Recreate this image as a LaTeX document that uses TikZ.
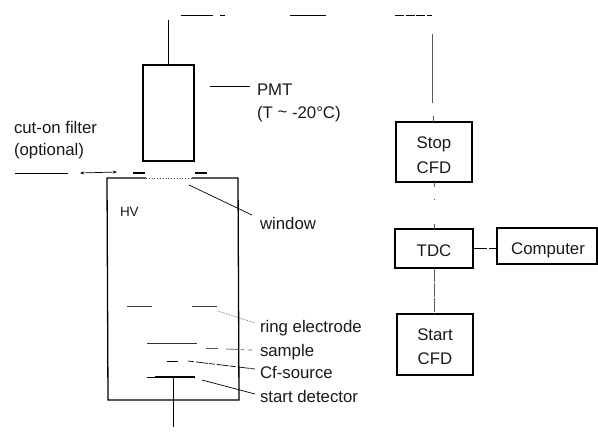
\documentclass[tikz,border=0pt]{standalone}
\usepackage{fontspec}
\usetikzlibrary{arrows.meta}
\setmainfont{Liberation Sans}
\tikzset{
  x=1pt,y=-1pt,
  every node/.style={inner sep=0pt,outer sep=0pt,text=black!90},
  lab/.style={anchor=base west,font=\fontsize{16.8}{20}\selectfont},
  small/.style={anchor=base west,font=\fontsize{13.5}{16}\selectfont},
  boxed/.style={draw,line width=1.3pt,anchor=north west,font=\fontsize{16.8}{20}\selectfont,align=center},
  wall/.style={line width=1.3pt},
  thin line/.style={line width=0.7pt},
  faint/.style={line width=0.7pt,black!65},
  plate/.style={line width=0.8pt,black!75},
}
\begin{document}
\begin{tikzpicture}
\useasboundingbox (0,0) rectangle (598,432);
% boxes
\node[boxed,minimum width=51pt,minimum height=96pt] (pmt) at (143,65) {};
\node[boxed,minimum width=76pt,minimum height=60pt] (stop) at (396,122) {};
\node[boxed,minimum width=78pt,minimum height=39pt] (tdc) at (395,229) {};
\node[boxed,minimum width=100pt,minimum height=36pt] (comp) at (497,228) {};
\node[boxed,minimum width=76pt,minimum height=61pt] (start) at (397,314) {};
% box texts
\node[lab,anchor=base] (stopa) at (434,148) {Stop};
\node[lab,anchor=base] (stopb) at (434,173) {CFD};
\node[lab,anchor=base] (tdct) at (434,256) {TDC};
\node[lab,anchor=base] (compt) at (548,254) {Computer};
\node[lab,anchor=base] (starta) at (435,340) {Start};
\node[lab,anchor=base] (startb) at (435,364) {CFD};
% labels
\node[lab] (lpmt) at (257,95) {PMT};
\node[lab] (ltemp) at (257,118) {(T \raisebox{1pt}{\textasciitilde} -20°C)};
\node[lab] (lcut) at (14,133) {cut-on filter};
\node[lab] (lopt) at (14,155) {(optional)};
\node[small] (lhv) at (120,216) {HV};
\node[lab] (lwin) at (260,229) {window};
\node[lab] (lring) at (260,332) {ring electrode};
\node[lab] (lsam) at (260,356) {sample};
\node[lab] (lcf) at (260,378) {Cf-source};
\node[lab] (lsd) at (260,402) {start detector};
% chamber
\coordinate (ctl) at (146,178);
\coordinate (ctr) at (192,178);
\draw[wall] (ctl) -- (107,178) -- (108,400) -- (239,400) -- (238,178) -- (ctr);
\draw[line width=0.8pt,dotted,black!70] (ctl) -- (ctr);
% filter
\coordinate (f1) at (15,173); \coordinate (f2) at (68,173);
\coordinate (f3) at (80,173); \coordinate (f4) at (117,172);
\coordinate (f5) at (133,173); \coordinate (f6) at (145,173);
\coordinate (f7) at (195,173); \coordinate (f8) at (207,173);
\draw[line width=1pt] (f1) -- (f2);
\draw[line width=0.7pt,{Stealth[length=4pt,width=3pt]}-{Stealth[length=4pt,width=3pt]}] (f3) -- (f4);
\draw[line width=1.2pt] (f5) -- (f6);
\draw[line width=1.2pt] (f7) -- (f8);
% plates
\coordinate (r1) at (127,306); \coordinate (r2) at (152,306);
\coordinate (r3) at (192,306); \coordinate (r4) at (217,306);
\coordinate (s1) at (147,343); \coordinate (s2) at (197,343);
\coordinate (c1) at (167,361); \coordinate (c2) at (178,361);
\coordinate (d1) at (147,377); \coordinate (d2) at (155,377); \coordinate (d3) at (195,377);
\coordinate (dw) at (173,377); \coordinate (dwe) at (173,427);
\draw[plate] (r1) -- (r2);
\draw[plate] (r3) -- (r4);
\draw[line width=0.9pt,black!80] (s1) -- (s2);
\draw[line width=0.9pt] (c1) -- (c2);
\draw[line width=0.7pt] (d1) -- (d2);
\draw[line width=1.4pt] (d2) -- (d3);
\draw[thin line] (dw) -- (dwe);
% leaders
\coordinate (a1) at (210,86); \coordinate (a2) at (250,86);
\draw[thin line] (a1) -- (a2);
\coordinate (a3) at (189,185); \coordinate (a4) at (252,215);
\draw[thin line] (a3) -- (a4);
\coordinate (a5) at (218,311); \coordinate (a6) at (255,323);
\draw[faint,densely dotted] (a5) -- (a6);
\coordinate (a7) at (206,348); \coordinate (a8) at (218,348);
\coordinate (a9) at (226,349); \coordinate (a10) at (252,350);
\draw[faint] (a7) -- (a8);
\draw[faint,dash pattern=on 12pt off 3pt on 3pt off 4pt] (a9) -- (a10);
\coordinate (a11) at (188,361); \coordinate (a12) at (255,369);
\draw[thin line,dash pattern=on 6pt off 2pt on 12pt off 1pt] (a11) -- (a12);
\coordinate (a13) at (202,380); \coordinate (a14) at (255,394);
\draw[thin line] (a13) -- (a14);
% signal wires
\coordinate (w1) at (168,20);
\draw[thin line] (pmt.north -| w1) -- (w1);
\coordinate (t1) at (181,15); \coordinate (t2) at (213,15);
\coordinate (t3) at (220,15); \coordinate (t4) at (225,15);
\coordinate (t5) at (290,15); \coordinate (t6) at (326,15);
\coordinate (t7) at (395,15); \coordinate (t8) at (432,15);
\draw[thin line] (t1) -- (t2);
\draw[thin line] (t3) -- (t4);
\draw[thin line] (t5) -- (t6);
\draw[thin line,dash pattern=on 9pt off 1.5pt] (t7) -- (t8);
\coordinate (v1) at (432,34); \coordinate (v2) at (432,103);
\coordinate (v3) at (433,116);
\draw[faint] (v1) -- (v2);
\draw[faint] (v3) -- (stop.north -| v3);
\coordinate (v4) at (434,187); \coordinate (v5) at (434,199); \coordinate (v6) at (434,200);
\coordinate (v7) at (434,224);
\draw[faint] (stop.south -| v4) -- (v4);
\draw[faint] (v5) -- (v6);
\draw[faint] (v7) -- (tdc.north -| v7);
\coordinate (v8) at (434,268);
\draw[faint,dash pattern=on 14pt off 1pt] (tdc.south -| v8) -- (start.north -| v8);
\draw[line width=0.8pt,dash pattern=on 14pt off 2pt] (tdc.east) -- (tdc.east -| comp.west);
\end{tikzpicture}
\end{document}
